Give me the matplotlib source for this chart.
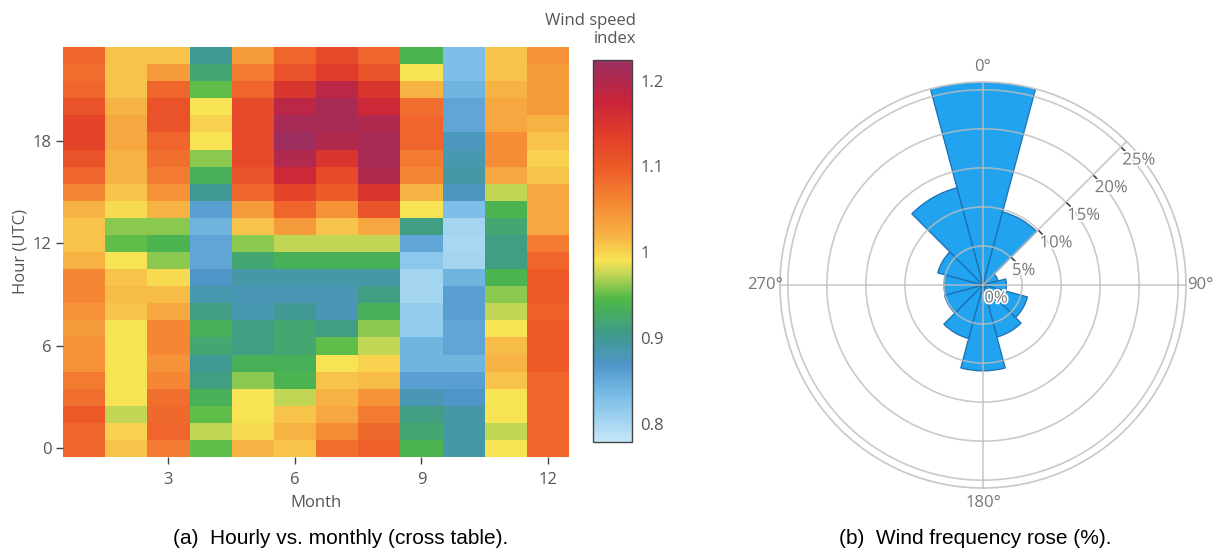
import numpy as np
import matplotlib
matplotlib.use("Agg")
import matplotlib.pyplot as plt
import matplotlib.patheffects as pe
from matplotlib.colors import LinearSegmentedColormap
from matplotlib.path import Path

plt.rcParams['font.family'] = ['Open Sans', 'DejaVu Sans']

# ---- data: wind speed index, one list per month (hours 0..23) ----
months = list(range(1, 13))
hours = list(range(24))

m01 = [1.09, 1.09, 1.10, 1.08, 1.07, 1.05, 1.05, 1.04, 1.05, 1.06, 1.06, 1.02,
       1.01, 1.01, 1.02, 1.06, 1.09, 1.11, 1.13, 1.13, 1.11, 1.09, 1.08, 1.09]
m02 = [1.01, 1.00, 0.975, 0.99, 0.99, 0.99, 0.99, 0.99, 1.01, 1.015, 1.01, 0.99,
       0.95, 0.96, 0.995, 1.01, 1.02, 1.02, 1.03, 1.03, 1.02, 1.01, 1.01, 1.01]
m03 = [1.07, 1.09, 1.085, 1.08, 1.06, 1.05, 1.06, 1.06, 1.03, 1.015, 0.995, 0.96,
       0.94, 0.96, 1.02, 1.05, 1.07, 1.08, 1.09, 1.11, 1.11, 1.09, 1.04, 1.01]
m04 = [0.95, 0.975, 0.95, 0.935, 0.91, 0.90, 0.92, 0.935, 0.91, 0.885, 0.87, 0.855,
       0.855, 0.84, 0.86, 0.90, 0.935, 0.96, 0.99, 1.00, 0.99, 0.95, 0.92, 0.90]
m05 = [1.02, 0.995, 0.99, 0.99, 0.96, 0.935, 0.91, 0.91, 0.885, 0.88, 0.89, 0.92,
       0.96, 1.01, 1.04, 1.09, 1.11, 1.12, 1.12, 1.12, 1.12, 1.09, 1.07, 1.04]
m06 = [1.01, 1.02, 1.01, 0.975, 0.94, 0.935, 0.92, 0.92, 0.90, 0.88, 0.89, 0.935,
       0.975, 1.04, 1.09, 1.13, 1.17, 1.20, 1.22, 1.21, 1.19, 1.15, 1.11, 1.09]
m07 = [1.08, 1.055, 1.03, 1.02, 1.01, 0.99, 0.95, 0.91, 0.88, 0.88, 0.89, 0.935,
       0.975, 1.01, 1.05, 1.10, 1.12, 1.15, 1.20, 1.21, 1.21, 1.19, 1.14, 1.12]
m08 = [1.095, 1.085, 1.07, 1.05, 1.015, 1.00, 0.975, 0.96, 0.935, 0.91, 0.89, 0.935,
       0.975, 1.03, 1.11, 1.15, 1.20, 1.21, 1.21, 1.20, 1.17, 1.15, 1.11, 1.09]
m09 = [0.94, 0.92, 0.91, 0.88, 0.86, 0.84, 0.84, 0.815, 0.815, 0.805, 0.805, 0.82,
       0.855, 0.91, 0.99, 1.02, 1.06, 1.07, 1.09, 1.09, 1.08, 1.02, 0.99, 0.94]
m10 = [0.89, 0.89, 0.89, 0.87, 0.86, 0.84, 0.855, 0.855, 0.86, 0.86, 0.84, 0.805,
       0.80, 0.805, 0.83, 0.875, 0.89, 0.885, 0.875, 0.855, 0.855, 0.84, 0.83, 0.83]
m11 = [0.99, 0.975, 0.99, 0.99, 1.01, 1.02, 1.015, 0.99, 0.975, 0.96, 0.94, 0.91,
       0.91, 0.92, 0.94, 0.975, 1.03, 1.055, 1.055, 1.03, 1.03, 1.02, 1.01, 1.01]
m12 = [1.09, 1.09, 1.09, 1.09, 1.09, 1.10, 1.10, 1.10, 1.095, 1.10, 1.10, 1.09,
       1.07, 1.03, 1.03, 1.03, 1.01, 1.00, 1.01, 1.02, 1.04, 1.04, 1.04, 1.05]

# ---- data: wind rose (frequency % per 30 degree sector) ----
directions = [0, 30, 60, 90, 120, 150, 180, 210, 240, 270, 300, 330]
frequency = [26.0, 9.7, 2.0, 3.0, 5.9, 6.9, 11.0, 7.1, 5.1, 5.0, 6.0, 12.9]

z = np.array([m01, m02, m03, m04, m05, m06, m07, m08, m09, m10, m11, m12]).T

vmin, vmax = 0.779, 1.224
nodes = [(0.779, '#C6E7F8'), (0.83, '#7CBFE8'), (0.868, '#4F96CA'),
         (0.905, '#3F9A8A'), (0.945, '#4DB848'), (0.972, '#B8D455'),
         (0.99, '#F8E354'), (1.02, '#F7B244'), (1.06, '#F58634'),
         (1.10, '#ED5A28'), (1.14, '#E03C2B'), (1.177, '#C8233A'),
         (1.224, '#9B2F62')]
cmap = LinearSegmentedColormap.from_list(
    'wind', [((v - vmin) / (vmax - vmin), c) for v, c in nodes])

txt = '#555555'
fs = 12
W, H = 1217, 551
fig = plt.figure(figsize=(W / 100, H / 100), dpi=100)

# heatmap
ax = fig.add_axes([63 / W, 1 - 457 / H, 506 / W, 410 / H])
xe = np.arange(len(months) + 1) + 0.5
ye = np.arange(len(hours) + 1) - 0.5
mesh = ax.pcolormesh(xe, ye, z, cmap=cmap, vmin=vmin, vmax=vmax)
ax.set_xlim(0.5, 12.5)
ax.set_ylim(-0.5, 23.5)
ax.set_xticks([3, 6, 9, 12])
ax.set_yticks([0, 6, 12, 18])
ax.tick_params(length=5, width=1, color='#444444', labelcolor=txt,
               labelsize=fs, pad=3)
ax.tick_params(axis='x', pad=6)
for s in ax.spines.values():
    s.set_visible(False)
ax.set_xlabel('Month', color=txt, fontsize=fs, labelpad=5)
ax.set_ylabel('Hour (UTC)', color=txt, fontsize=fs, labelpad=3)

# colorbar
cax = fig.add_axes([593 / W, 1 - 442 / H, 39 / W, 382 / H])
cb = fig.colorbar(mesh, cax=cax, ticks=[0.8, 0.9, 1.0, 1.1, 1.2])
cb.ax.set_yticklabels(['0.8', '0.9', '1', '1.1', '1.2'])
cb.ax.tick_params(length=0, labelcolor=txt, labelsize=fs, pad=6)
cb.outline.set_edgecolor('#444444')
cb.outline.set_linewidth(1)
fig.text(636 / W, 1 - 30 / H, 'Wind speed\nindex', ha='right', va='center',
         multialignment='right', color=txt, fontsize=fs, linespacing=1.1)

# wind rose
cx, cy, R = 983, 285, 203
rmax = 26.0
pax = fig.add_axes([(cx - R) / W, (H - cy - R) / H, 2 * R / W, 2 * R / H],
                   projection='polar')
pax.set_theta_zero_location('N')
pax.set_theta_direction(-1)
theta = np.radians(directions)
pax.bar(theta, frequency, width=np.radians(30), color='#22A3F0',
        edgecolor='#1C6FB0', linewidth=0.9, zorder=1)
pax.set_ylim(0, rmax)
pax.set_axisbelow(False)
pax.set_rticks([5, 10, 15, 20, 25])
pax.set_yticklabels([])
pax.set_thetagrids([0, 90, 180, 270], labels=['0°', '90°', '180°', '270°'],
                   color='#777777', fontsize=fs)
pax.tick_params(axis='x', pad=0)
pax.grid(color='#bdbdbd', linewidth=1.2, alpha=0.8)
pax.spines['polar'].set_edgecolor('#c8c8c8')
pax.spines['polar'].set_linewidth(1.2)

# radial axis at 45 degrees
a45 = np.radians(45)
pax.plot([a45, a45], [0, rmax], color='#bdbdbd', lw=1.2, alpha=0.8, zorder=3)
tick_marker = Path([(0, 0), (0.7, -0.7)])
for r in [5, 10, 15, 20, 25]:
    pax.plot([a45], [r], marker=tick_marker, markersize=6, color='#333333',
             markeredgewidth=1, zorder=4)
halo = [pe.withStroke(linewidth=2.5, foreground='white')]
for r in [0, 5, 10, 15, 20, 25]:
    pax.annotate(f'{r}%', (a45, r), xytext=(1, -4), textcoords='offset points',
                 ha='left', va='top', color='#777777', fontsize=fs, zorder=5,
                 path_effects=halo)

fig.text(341 / W, 1 - 538 / H, '(a)  Hourly vs. monthly (cross table).',
         ha='center', va='center', family='Liberation Sans', fontsize=15)
fig.text(975 / W, 1 - 538 / H, '(b)  Wind frequency rose (%).',
         ha='center', va='center', family='Liberation Sans', fontsize=15)

fig.savefig('out.png', dpi=100)
